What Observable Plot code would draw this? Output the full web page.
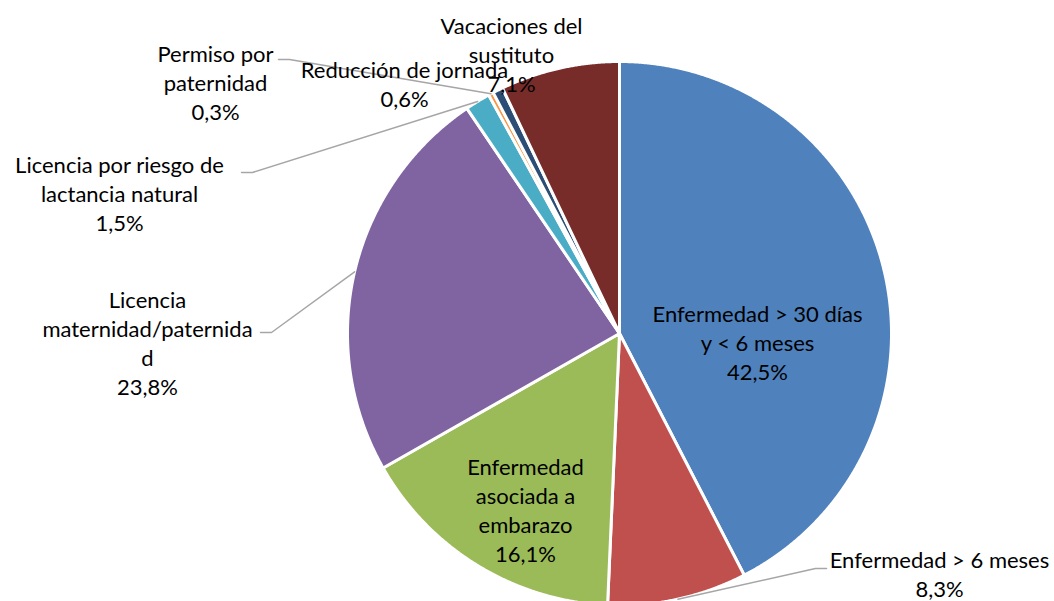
<!DOCTYPE html>
<html><head><meta charset="utf-8">
<script src="https://cdn.jsdelivr.net/npm/d3@7"></script>
<script src="https://cdn.jsdelivr.net/npm/@observablehq/plot@0.6"></script>
<style>html,body{margin:0;padding:0;background:#fff;overflow:hidden}</style>
</head><body><div id="chart"></div>
<script>
// ---- data ----
const categories = [
  "Enfermedad > 30 días y < 6 meses",
  "Enfermedad > 6 meses",
  "Enfermedad asociada a embarazo",
  "Licencia maternidad/paternidad",
  "Licencia por riesgo de lactancia natural",
  "Permiso por paternidad",
  "Reducción de jornada",
  "Vacaciones del sustituto"
];
const values = [42.5, 8.3, 16.1, 23.8, 1.5, 0.3, 0.6, 7.1];
const labelLines = [
  ["Enfermedad > 30 días", "y < 6 meses"],
  ["Enfermedad > 6 meses"],
  ["Enfermedad", "asociada a", "embarazo"],
  ["Licencia", "maternidad/paternida", "d"],
  ["Licencia por riesgo de", "lactancia natural"],
  ["Permiso por", "paternidad"],
  ["Reducción de jornada"],
  ["Vacaciones del", "sustituto"]
];
const colors = ["#4F81BD", "#C0504D", "#9BBB59", "#8064A2", "#4BACC6", "#F79646", "#2C4D75", "#772C2A"];

// ---- layout (pixels) ----
const W = 1054, H = 601, CX = 619, CY = 333, R = 272;
const labelPos = [[757, 341], [939, 573], [525, 508.5], [147, 341.5], [119, 192.5], [215, 81.5], [404, 82.5], [511, 53]];
const leaderStart = {1: [826, 568], 3: [260, 332], 4: [241, 172], 5: [278, 59]};
const toU = ([px, py]) => [(px - CX) / R, (CY - py) / R];

const fmt = v => v.toFixed(1).replace(".", ",") + "%";
const arcs = d3.pie().sort(null).value(d => d)(values);

const slicePts = [];
arcs.forEach((a, i) => {
  slicePts.push({x: 0, y: 0, k: i, c: colors[i]});
  const n = Math.max(2, Math.ceil((a.endAngle - a.startAngle) / 0.004));
  for (let j = 0; j <= n; j++) {
    const t = a.startAngle + (a.endAngle - a.startAngle) * j / n;
    slicePts.push({x: Math.sin(t), y: Math.cos(t), k: i, c: colors[i]});
  }
  slicePts.push({x: 0, y: 0, k: i, c: colors[i]});
});

const labels = categories.map((c, i) => {
  const [x, y] = toU(labelPos[i]);
  return {x, y, text: [...labelLines[i], fmt(values[i])].join("\n")};
});

const leaders = [];
Object.entries(leaderStart).forEach(([k, s]) => {
  const i = +k, a = arcs[i], m = (a.startAngle + a.endAngle) / 2;
  const dir = s[0] < CX ? 1 : -1;
  const [x0, y0] = toU(s), [x1, y1] = toU([s[0] + dir * 11, s[1]]);
  leaders.push({x: x0, y: y0, k: i}, {x: x1, y: y1, k: i}, {x: Math.sin(m), y: Math.cos(m), k: i});
});

const chart = Plot.plot({
  width: W, height: H,
  margin: 0,
  x: {domain: [-CX / R, (W - CX) / R], axis: null},
  y: {domain: [-(H - CY) / R, CY / R], axis: null},
  color: {type: "identity"},
  style: {background: "#fff"},
  marks: [
    Plot.line(slicePts, {x: "x", y: "y", z: "k", fill: "c", stroke: "#fff", strokeWidth: 3, strokeLinejoin: "round", curve: "linear"}),
    Plot.line(leaders, {x: "x", y: "y", z: "k", stroke: "#a6a6a6", strokeWidth: 1.5, curve: "linear"}),
    Plot.text(labels, {x: "x", y: "y", text: "text", fontSize: 22, fontFamily: "Lato", fill: "#000",
      lineHeight: 1.32, lineAnchor: "middle", textAnchor: "middle"})
  ]
});
document.getElementById("chart").appendChild(chart);
</script>
</body></html>
